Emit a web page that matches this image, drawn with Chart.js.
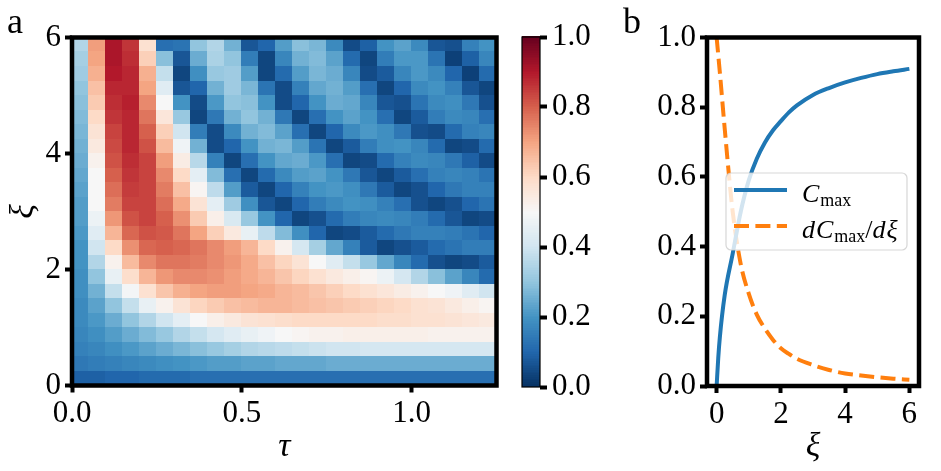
<!DOCTYPE html>
<html>
<head>
<meta charset="utf-8">
<script src="https://cdn.jsdelivr.net/npm/chart.js@4"></script>
<style>
  html, body { margin: 0; padding: 0; background: #fff; }
  #page { position: relative; width: 941px; height: 471px; overflow: hidden; }
  canvas { position: absolute; top: 0; }
</style>
</head>
<body>
<div id="page">
  <canvas id="mapChart" width="520" height="471" style="left:0"></canvas>
  <canvas id="barChart" width="110" height="471" style="left:500px"></canvas>
  <canvas id="lineChart" width="341" height="471" style="left:600px"></canvas>
</div>
<script>
// Panel a: grid cell centres (tau across, xi from top row down)
const tauStep = 0.05;
const xiStep = 0.25;
const tauCenters = [0.025, 0.075, 0.125, 0.175, 0.225, 0.275, 0.325, 0.375, 0.425, 0.475, 0.525, 0.575, 0.625,
  0.675, 0.725, 0.775, 0.825, 0.875, 0.925, 0.975, 1.025, 1.075, 1.125, 1.175, 1.225];
const xiCenters = [5.875, 5.625, 5.375, 5.125, 4.875, 4.625, 4.375, 4.125, 3.875, 3.625, 3.375, 3.125,
  2.875, 2.625, 2.375, 2.125, 1.875, 1.625, 1.375, 1.125, 0.875, 0.625, 0.375, 0.125];

// concurrence, one row per xi centre
const cGrid = [
  [0.35,0.71,0.91,0.86,0.58,0.12,0.13,0.30,0.35,0.26,0.07,0.10,0.22,0.29,0.27,0.18,0.05,0.09,0.20,0.23,0.18,0.07,0.06,0.16,0.20],
  [0.33,0.70,0.91,0.87,0.62,0.29,0.07,0.25,0.34,0.30,0.15,0.04,0.17,0.26,0.28,0.23,0.11,0.04,0.15,0.21,0.21,0.13,0.03,0.09,0.17],
  [0.32,0.68,0.90,0.88,0.68,0.38,0.04,0.19,0.31,0.32,0.22,0.04,0.11,0.22,0.27,0.25,0.17,0.05,0.08,0.17,0.21,0.18,0.10,0.03,0.11],
  [0.30,0.65,0.88,0.88,0.70,0.44,0.07,0.10,0.26,0.32,0.27,0.13,0.05,0.16,0.24,0.26,0.22,0.12,0.04,0.10,0.18,0.20,0.16,0.07,0.04],
  [0.29,0.63,0.87,0.89,0.74,0.50,0.20,0.05,0.21,0.30,0.29,0.20,0.05,0.10,0.20,0.25,0.24,0.17,0.07,0.06,0.13,0.18,0.19,0.14,0.06],
  [0.28,0.60,0.86,0.88,0.77,0.56,0.31,0.04,0.14,0.26,0.30,0.26,0.14,0.04,0.12,0.20,0.23,0.20,0.12,0.04,0.08,0.15,0.18,0.17,0.12],
  [0.27,0.57,0.84,0.88,0.80,0.62,0.40,0.15,0.05,0.18,0.26,0.28,0.23,0.12,0.04,0.10,0.18,0.21,0.19,0.14,0.06,0.05,0.11,0.16,0.17],
  [0.26,0.55,0.83,0.88,0.82,0.66,0.48,0.26,0.05,0.10,0.20,0.26,0.27,0.22,0.13,0.04,0.08,0.15,0.19,0.20,0.17,0.11,0.04,0.05,0.11],
  [0.25,0.52,0.82,0.87,0.84,0.71,0.54,0.36,0.16,0.04,0.12,0.20,0.24,0.25,0.21,0.12,0.04,0.05,0.11,0.16,0.18,0.17,0.14,0.09,0.05],
  [0.24,0.50,0.80,0.86,0.84,0.74,0.60,0.45,0.28,0.12,0.04,0.11,0.18,0.22,0.23,0.20,0.14,0.07,0.04,0.08,0.12,0.16,0.17,0.16,0.13],
  [0.23,0.50,0.78,0.85,0.84,0.76,0.65,0.51,0.37,0.22,0.08,0.04,0.10,0.16,0.20,0.21,0.19,0.14,0.08,0.04,0.06,0.10,0.14,0.16,0.16],
  [0.22,0.50,0.76,0.84,0.84,0.78,0.69,0.57,0.45,0.32,0.19,0.07,0.04,0.10,0.15,0.18,0.20,0.19,0.16,0.12,0.06,0.04,0.06,0.10,0.13],
  [0.22,0.47,0.72,0.82,0.84,0.80,0.73,0.63,0.53,0.42,0.31,0.20,0.10,0.04,0.06,0.11,0.15,0.17,0.18,0.17,0.15,0.11,0.07,0.04,0.05],
  [0.21,0.44,0.67,0.79,0.82,0.81,0.77,0.70,0.62,0.55,0.46,0.37,0.28,0.19,0.10,0.04,0.05,0.08,0.11,0.14,0.16,0.16,0.15,0.13,0.10],
  [0.20,0.40,0.60,0.73,0.79,0.80,0.79,0.77,0.74,0.71,0.67,0.60,0.52,0.41,0.33,0.24,0.16,0.08,0.04,0.06,0.08,0.11,0.13,0.15,0.15],
  [0.20,0.35,0.52,0.66,0.74,0.77,0.77,0.76,0.74,0.72,0.69,0.65,0.61,0.57,0.50,0.44,0.38,0.31,0.24,0.17,0.11,0.06,0.04,0.05,0.08],
  [0.19,0.30,0.46,0.59,0.67,0.72,0.74,0.74,0.73,0.71,0.69,0.67,0.64,0.61,0.58,0.55,0.53,0.51,0.47,0.41,0.35,0.29,0.23,0.17,0.11],
  [0.19,0.26,0.38,0.49,0.58,0.64,0.68,0.70,0.71,0.71,0.70,0.69,0.67,0.66,0.64,0.62,0.60,0.58,0.56,0.54,0.52,0.50,0.48,0.44,0.40],
  [0.18,0.23,0.30,0.38,0.46,0.52,0.57,0.61,0.63,0.65,0.66,0.67,0.67,0.66,0.65,0.64,0.63,0.62,0.61,0.60,0.58,0.57,0.55,0.53,0.51],
  [0.18,0.21,0.25,0.30,0.35,0.40,0.45,0.50,0.53,0.55,0.57,0.58,0.59,0.60,0.60,0.60,0.60,0.60,0.59,0.59,0.58,0.58,0.57,0.56,0.55],
  [0.17,0.19,0.22,0.25,0.28,0.31,0.35,0.38,0.41,0.44,0.46,0.48,0.50,0.51,0.52,0.52,0.53,0.53,0.53,0.53,0.53,0.52,0.52,0.52,0.52],
  [0.16,0.17,0.19,0.21,0.23,0.25,0.27,0.29,0.31,0.33,0.35,0.36,0.37,0.38,0.39,0.40,0.40,0.41,0.41,0.41,0.41,0.41,0.41,0.41,0.41],
  [0.14,0.15,0.16,0.17,0.18,0.19,0.20,0.21,0.22,0.22,0.23,0.23,0.24,0.24,0.24,0.25,0.25,0.25,0.25,0.25,0.25,0.25,0.25,0.25,0.25],
  [0.09,0.09,0.10,0.10,0.11,0.11,0.11,0.12,0.12,0.12,0.12,0.12,0.12,0.12,0.12,0.12,0.12,0.12,0.12,0.12,0.12,0.12,0.12,0.12,0.12]
];
const tauTicks = [0, 0.5, 1.0];
const xiTicks = [0, 2, 4, 6];
const cbarTicks = [0, 0.2, 0.4, 0.6, 0.8, 1.0];

// Panel b
const xiLine = [0, 0.05, 0.1, 0.25, 0.5, 0.75, 1, 1.25, 1.5, 1.75, 2, 2.25, 2.5, 3, 3.5, 4, 4.5, 5, 5.5, 6];
const cMax = [0, 0.08, 0.14, 0.26, 0.38, 0.5, 0.59, 0.652, 0.698, 0.733, 0.76, 0.785, 0.805, 0.835, 0.855, 0.871, 0.884, 0.895, 0.903, 0.91];
const dCmax = [1.0, 0.95, 0.9, 0.74, 0.5, 0.35, 0.265, 0.205, 0.165, 0.133, 0.108, 0.092, 0.078, 0.06, 0.046, 0.036, 0.03, 0.025, 0.021, 0.018];
const lineXTicks = [0, 2, 4, 6];
const lineYTicks = [0, 0.2, 0.4, 0.6, 0.8, 1.0];

const SERIF = "'Liberation Serif', 'DejaVu Serif', serif";
Chart.defaults.font.family = SERIF;
Chart.defaults.font.size = 31;
Chart.defaults.color = '#000';

// RdBu reversed colour map
const rdbuStops = ['#053061', '#2166ac', '#4393c3', '#92c5de', '#d1e5f0', '#f7f7f7',
  '#fddbc7', '#f4a582', '#d6604d', '#b2182b', '#67001f'];
const stopRgb = rdbuStops.map(h => [1, 3, 5].map(i => parseInt(h.substr(i, 2), 16)));
function rdbu(v) {
  const t = Math.min(Math.max(v, 0), 1) * 10;
  const i = Math.min(Math.floor(t), 9);
  const f = t - i;
  const a = stopRgb[i], b = stopRgb[i + 1];
  const c = a.map((x, k) => Math.round(x + (b[k] - x) * f));
  return 'rgb(' + c.join(',') + ')';
}

function fixedTicks(list) {
  return s => { s.ticks = list.map(v => ({ value: v })); };
}
const tickGrid = { display: true, drawOnChartArea: false, tickLength: 7, tickWidth: 4, tickColor: '#000' };

// frame + panel letter
const framePlugin = {
  id: 'frame',
  afterDraw(chart, args, opts) {
    const { ctx, chartArea: a } = chart;
    ctx.save();
    ctx.lineWidth = opts.width;
    ctx.strokeStyle = '#000';
    ctx.strokeRect(a.left, a.top, a.right - a.left, a.bottom - a.top);
    if (opts.letter) {
      ctx.font = '36px ' + SERIF;
      ctx.fillStyle = '#000';
      ctx.textBaseline = 'alphabetic';
      ctx.fillText(opts.letter, opts.lx, opts.ly);
    }
    ctx.restore();
  }
};

const heatmapPlugin = {
  id: 'heatmap',
  beforeDatasetsDraw(chart) {
    const { ctx, scales: { x, y } } = chart;
    ctx.save();
    cGrid.forEach((row, j) => {
      const y0 = Math.floor(y.getPixelForValue(xiCenters[j] + xiStep / 2));
      const y1 = Math.ceil(y.getPixelForValue(xiCenters[j] - xiStep / 2));
      row.forEach((v, i) => {
        const x0 = Math.floor(x.getPixelForValue(tauCenters[i] - tauStep / 2));
        const x1 = Math.ceil(x.getPixelForValue(tauCenters[i] + tauStep / 2));
        ctx.fillStyle = rdbu(v);
        ctx.fillRect(x0, y0, x1 - x0, y1 - y0);
      });
    });
    ctx.restore();
  }
};

const colorbarPlugin = {
  id: 'colorbar',
  beforeDatasetsDraw(chart) {
    const { ctx, chartArea: a, scales: { y } } = chart;
    ctx.save();
    for (let v = 0; v < 1; v += 0.005) {
      const y0 = y.getPixelForValue(v + 0.005);
      const y1 = y.getPixelForValue(v);
      ctx.fillStyle = rdbu(v + 0.0025);
      ctx.fillRect(a.left, Math.floor(y0), a.right - a.left, Math.ceil(y1) - Math.floor(y0));
    }
    ctx.restore();
  }
};

// legend with subscripts
const legendPlugin = {
  id: 'mathLegend',
  afterDatasetsDraw(chart) {
    const { ctx } = chart;
    const box = { x: 126, y: 173, w: 181, h: 77 };
    ctx.save();
    ctx.beginPath();
    ctx.roundRect(box.x, box.y, box.w, box.h, 5);
    ctx.fillStyle = 'rgba(255,255,255,0.8)';
    ctx.fill();
    ctx.strokeStyle = 'rgba(204,204,204,0.8)';
    ctx.lineWidth = 1.2;
    ctx.stroke();
    const rows = [
      { y: 190, base: 202, runs: [['C', 'i'], ['max', 's']] },
      { y: 226, base: 238, runs: [['d', 'i'], ['C', 'i'], ['max', 's'], ['/', 'r'], ['d', 'i'], ['ξ', 'i']] }
    ];
    chart.data.datasets.forEach((ds, k) => {
      const r = rows[k];
      ctx.beginPath();
      ctx.setLineDash(ds.borderDash || []);
      ctx.strokeStyle = ds.borderColor;
      ctx.lineWidth = ds.borderWidth;
      ctx.moveTo(134, r.y);
      ctx.lineTo(187, r.y);
      ctx.stroke();
      ctx.setLineDash([]);
      let x = 202;
      ctx.fillStyle = '#000';
      r.runs.forEach(([t, st]) => {
        ctx.font = st === 'i' ? 'italic 26px ' + SERIF : st === 's' ? '18px ' + SERIF : '26px ' + SERIF;
        ctx.fillText(t, x, st === 's' ? r.base + 4 : r.base);
        x += ctx.measureText(t).width + (st === 'i' ? 1 : 0);
      });
    });
    ctx.restore();
  }
};

// Panel a: heat map
new Chart(document.getElementById('mapChart'), {
  type: 'scatter',
  data: { datasets: [{ data: [] }] },
  options: {
    responsive: false,
    animation: false,
    devicePixelRatio: 1,
    layout: { padding: { top: 37.5, right: 23.5, bottom: 0, left: 0 } },
    scales: {
      x: {
        type: 'linear', min: 0, max: 1.25,
        afterBuildTicks: fixedTicks(tauTicks),
        afterFit: s => { s.height = 85.5; },
        ticks: { callback: v => v.toFixed(1), padding: 3, maxRotation: 0 },
        grid: tickGrid, border: { display: false },
        title: { display: true, text: 'τ', font: { size: 34, style: 'italic' }, padding: { top: 0, bottom: 4 } }
      },
      y: {
        type: 'linear', min: 0, max: 6,
        afterBuildTicks: fixedTicks(xiTicks),
        afterFit: s => { s.width = 72; },
        ticks: { callback: v => String(v), padding: 4 },
        grid: tickGrid, border: { display: false },
        title: { display: true, text: 'ξ', font: { size: 34, style: 'italic' }, padding: { top: 4, bottom: 0 } }
      }
    },
    plugins: { legend: { display: false }, tooltip: { enabled: false },
      frame: { width: 4.5, letter: 'a', lx: 7, ly: 33 } }
  },
  plugins: [heatmapPlugin, framePlugin]
});

// colour bar
new Chart(document.getElementById('barChart'), {
  type: 'scatter',
  data: { datasets: [{ data: [] }] },
  options: {
    responsive: false,
    animation: false,
    devicePixelRatio: 1,
    layout: { padding: { top: 37, right: 0, bottom: 84, left: 22 } },
    scales: {
      x: { type: 'linear', display: false, min: 0, max: 1 },
      y: {
        type: 'linear', position: 'right', min: 0, max: 1,
        afterBuildTicks: fixedTicks(cbarTicks),
        afterFit: s => { s.width = 70; },
        ticks: { callback: v => v.toFixed(1), padding: 5 },
        grid: tickGrid, border: { display: false }
      }
    },
    plugins: { legend: { display: false }, tooltip: { enabled: false }, frame: { width: 1.2 } }
  },
  plugins: [colorbarPlugin, framePlugin]
});

// Panel b: lines
new Chart(document.getElementById('lineChart'), {
  type: 'scatter',
  data: {
    datasets: [{
      label: 'Cmax',
      data: xiLine.map((x, i) => ({ x, y: cMax[i] })),
      showLine: true, borderColor: '#1f77b4', borderWidth: 4, pointRadius: 0,
      cubicInterpolationMode: 'monotone'
    }, {
      label: 'dCmax/dξ',
      data: xiLine.map((x, i) => ({ x, y: dCmax[i] })),
      showLine: true, borderColor: '#ff7f0e', borderWidth: 4, pointRadius: 0,
      borderDash: [15, 6.4], cubicInterpolationMode: 'monotone'
    }]
  },
  options: {
    responsive: false,
    animation: false,
    devicePixelRatio: 1,
    layout: { padding: { top: 37.5, right: 22, bottom: 0, left: 0 } },
    scales: {
      x: {
        type: 'linear', min: -0.3, max: 6.3,
        afterBuildTicks: fixedTicks(lineXTicks),
        afterFit: s => { s.height = 85; },
        ticks: { callback: v => String(v), padding: 3, maxRotation: 0 },
        grid: tickGrid, border: { display: false },
        title: { display: true, text: 'ξ', font: { size: 34, style: 'italic' }, padding: { top: 0, bottom: 4 } }
      },
      y: {
        type: 'linear', min: 0, max: 1,
        afterBuildTicks: fixedTicks(lineYTicks),
        afterFit: s => { s.width = 107; },
        ticks: { callback: v => v.toFixed(1), padding: 4 },
        grid: tickGrid, border: { display: false }
      }
    },
    plugins: { legend: { display: false }, tooltip: { enabled: false },
      frame: { width: 4.5, letter: 'b', lx: 23, ly: 33 } }
  },
  plugins: [legendPlugin, framePlugin]
});
</script>
</body>
</html>
